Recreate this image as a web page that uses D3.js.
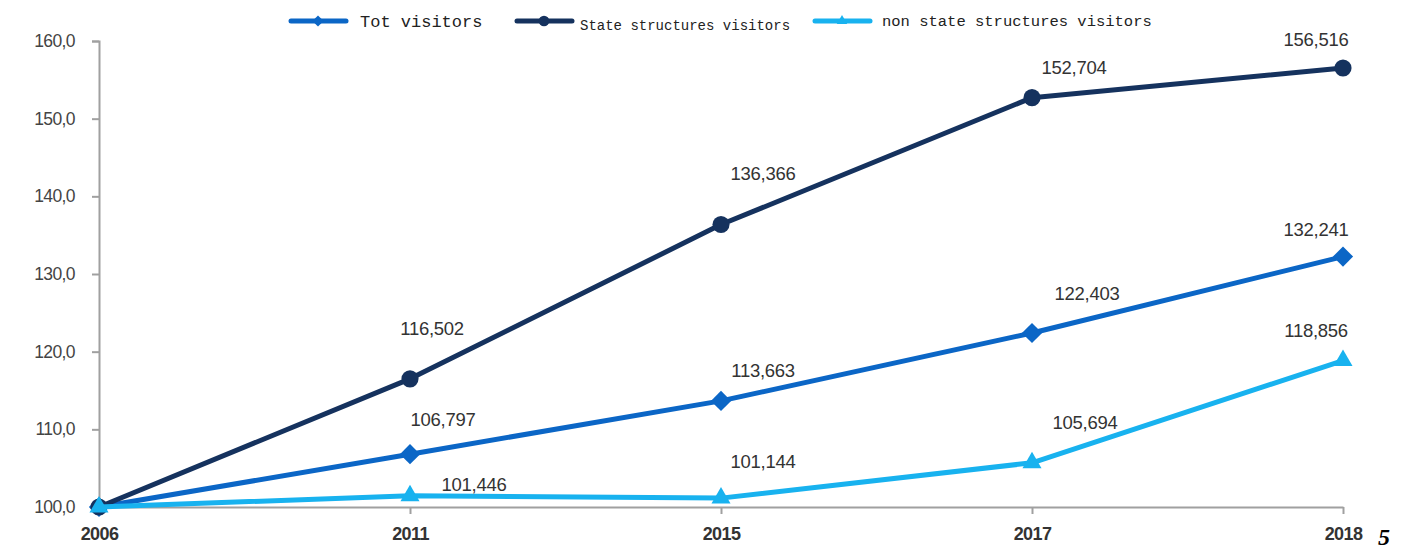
<!DOCTYPE html>
<html>
<head>
<meta charset="utf-8">
<script src="https://cdn.jsdelivr.net/npm/d3@7"></script>
<style>
  html, body { margin: 0; padding: 0; background: #fff; }
  svg { display: block; }
</style>
</head>
<body>
<svg id="chart" width="1406" height="558"></svg>
<script>
// Visitor index (2006 = 100)
const years = ["2006", "2011", "2015", "2017", "2018"];
const totVisitors = [100, 106.797, 113.663, 122.403, 132.241];
const stateVisitors = [100, 116.502, 136.366, 152.704, 156.516];
const nonStateVisitors = [100, 101.446, 101.144, 105.694, 118.856];
const yTicks = [100, 110, 120, 130, 140, 150, 160];
const seriesNames = ["Tot visitors", "State structures visitors", "non state structures visitors"];

const fmtLabel = v => d3.format(",.3f")(v).replace(".", ",");
const fmtTick = v => d3.format(".1f")(v).replace(".", ",");

const svg = d3.select("#chart");
const margin = { left: 99, right: 63, top: 41, bottom: 51 };
const W = 1406, H = 558;

const x = d3.scalePoint().domain(years).range([margin.left, W - margin.right]);
const y = d3.scaleLinear().domain([100, 160]).range([H - margin.bottom, margin.top]);

const series = [
  { name: seriesNames[0], values: totVisitors, color: "#0b66c6", marker: "diamond",
    offsets: [null, [33, -34], [42, -30], [55, -39], [-27, -27]] },
  { name: seriesNames[1], values: stateVisitors, color: "#15325e", marker: "circle",
    offsets: [null, [22, -50], [42, -51], [42, -30], [-27, -28]] },
  { name: seriesNames[2], values: nonStateVisitors, color: "#18b2ef", marker: "triangle",
    offsets: [null, [64, -11], [42, -36], [53, -40], [-27, -30]] }
];

// Axes
const axisColor = "#a0a0a0";
const yAxis = svg.append("g")
  .attr("transform", `translate(${margin.left},0)`)
  .call(d3.axisLeft(y).tickValues(yTicks).tickFormat(fmtTick).tickSize(7).tickSizeOuter(7));
yAxis.select(".domain").attr("stroke", axisColor).attr("stroke-width", 2);
yAxis.selectAll(".tick line").attr("stroke", axisColor).attr("stroke-width", 2);
yAxis.selectAll(".tick text")
  .attr("x", -24)
  .attr("fill", "#444")
  .style("font-family", "Liberation Sans, Arial, sans-serif")
  .style("font-size", "17.5px")
  .style("letter-spacing", "-0.6px");

const xAxis = svg.append("g")
  .attr("transform", `translate(0,${H - margin.bottom})`)
  .call(d3.axisBottom(x).tickSize(7).tickSizeOuter(0));
xAxis.select(".domain").attr("stroke", axisColor).attr("stroke-width", 2);
xAxis.selectAll(".tick line").attr("stroke", axisColor).attr("stroke-width", 2);
xAxis.selectAll(".tick text")
  .attr("y", 20)
  .attr("fill", "#333")
  .style("font-family", "Liberation Sans, Arial, sans-serif")
  .style("font-size", "18px")
  .style("font-weight", "bold")
  .style("letter-spacing", "-0.6px");

// Markers
function markerPath(type, size) {
  const sym = type === "diamond" ? d3.symbolDiamond2
            : type === "circle" ? d3.symbolCircle
            : d3.symbolTriangle2;
  return d3.symbol().type(sym).size(size)();
}
const markerSize = { diamond: 260, circle: 230, triangle: 260 };

const line = d3.line().x((d, i) => x(years[i])).y(d => y(d));

series.forEach(s => {
  const g = svg.append("g");
  g.append("path")
    .datum(s.values)
    .attr("d", line)
    .attr("fill", "none")
    .attr("stroke", s.color)
    .attr("stroke-width", 5)
    .attr("stroke-linejoin", "round");
  g.selectAll("path.m")
    .data(s.values)
    .join("path")
    .attr("class", "m")
    .attr("d", markerPath(s.marker, markerSize[s.marker]))
    .attr("transform", (d, i) => `translate(${x(years[i])},${y(d)})`)
    .attr("fill", s.color);
  g.selectAll("text")
    .data(s.values.map((v, i) => ({ v, i })).filter(d => s.offsets[d.i]))
    .join("text")
    .attr("x", d => x(years[d.i]) + s.offsets[d.i][0])
    .attr("y", d => y(d.v) + s.offsets[d.i][1] + 6)
    .attr("text-anchor", "middle")
    .attr("fill", "#333")
    .style("font-family", "Liberation Sans, Arial, sans-serif")
    .style("font-size", "18.5px")
    .style("letter-spacing", "-0.3px")
    .text(d => fmtLabel(d.v));
});

// Legend
const legendItems = [
  { s: series[0], lx: 291, tx: 360, ty: 27, fs: 17 },
  { s: series[1], lx: 517, tx: 580, ty: 30, fs: 14 },
  { s: series[2], lx: 815, tx: 882, ty: 26, fs: 15.5 }
];
const legend = svg.append("g");
legendItems.forEach(it => {
  legend.append("line")
    .attr("x1", it.lx).attr("x2", it.lx + 55)
    .attr("y1", 21).attr("y2", 21)
    .attr("stroke", it.s.color).attr("stroke-width", 5)
    .attr("stroke-linecap", "round");
  legend.append("path")
    .attr("d", markerPath(it.s.marker, it.s.marker === "circle" ? 90 : 80))
    .attr("transform", `translate(${it.lx + 27},${21})`)
    .attr("fill", it.s.color);
  legend.append("text")
    .attr("x", it.tx).attr("y", it.ty)
    .attr("fill", "#222")
    .style("font-family", "Liberation Mono, DejaVu Sans Mono, monospace")
    .style("font-size", it.fs + "px")
    .text(it.s.name);
});

// Page number
svg.append("text")
  .attr("x", 1378).attr("y", 545)
  .attr("fill", "#000")
  .style("font-family", "Liberation Serif, serif")
  .style("font-style", "italic")
  .style("font-weight", "bold")
  .style("font-size", "24px")
  .text("5");
</script>
</body>
</html>
